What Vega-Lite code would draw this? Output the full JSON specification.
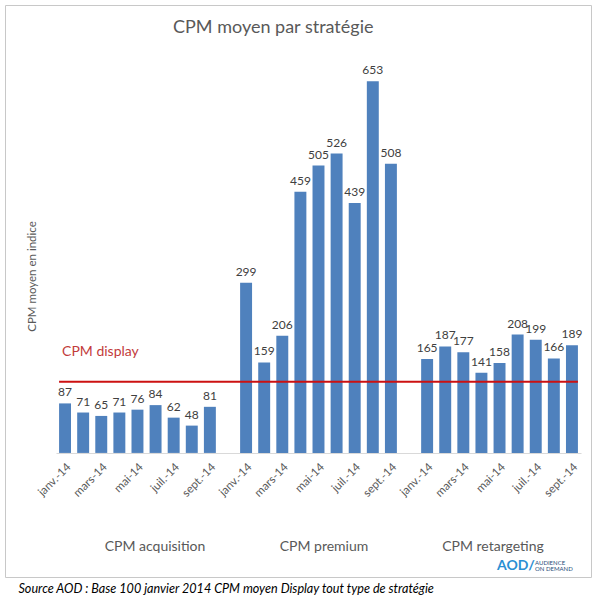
{
  "$schema": "https://vega.github.io/schema/vega-lite/v6.json",
  "autosize": {"type": "none"},
  "width": 586,
  "height": 572,
  "padding": {"left": 5, "top": 5, "right": 4, "bottom": 19},
  "background": "white",
  "config": {"view": {"stroke": "#c8c8c8", "strokeWidth": 1}, "font": "Lato"},
  "title": {"text": "CPM moyen par stratégie", "anchor": "start", "frame": "group", "dx": 168, "dy": 46, "offset": 0, "baseline": "alphabetic", "fontSize": 18, "fontWeight": "normal", "color": "#595959", "font": "Lato"},
  "datasets": {
    "cpm": [
      {"groupe": "CPM acquisition", "mois": "janv.-14", "cle": "acquisition|janv.-14", "indice": 87},
      {"groupe": "CPM acquisition", "mois": "févr.-14", "cle": "acquisition|févr.-14", "indice": 71},
      {"groupe": "CPM acquisition", "mois": "mars-14", "cle": "acquisition|mars-14", "indice": 65},
      {"groupe": "CPM acquisition", "mois": "avr.-14", "cle": "acquisition|avr.-14", "indice": 71},
      {"groupe": "CPM acquisition", "mois": "mai-14", "cle": "acquisition|mai-14", "indice": 76},
      {"groupe": "CPM acquisition", "mois": "juin-14", "cle": "acquisition|juin-14", "indice": 84},
      {"groupe": "CPM acquisition", "mois": "juil.-14", "cle": "acquisition|juil.-14", "indice": 62},
      {"groupe": "CPM acquisition", "mois": "août-14", "cle": "acquisition|août-14", "indice": 48},
      {"groupe": "CPM acquisition", "mois": "sept.-14", "cle": "acquisition|sept.-14", "indice": 81},
      {"groupe": "CPM premium", "mois": "janv.-14", "cle": "premium|janv.-14", "indice": 299},
      {"groupe": "CPM premium", "mois": "févr.-14", "cle": "premium|févr.-14", "indice": 159},
      {"groupe": "CPM premium", "mois": "mars-14", "cle": "premium|mars-14", "indice": 206},
      {"groupe": "CPM premium", "mois": "avr.-14", "cle": "premium|avr.-14", "indice": 459},
      {"groupe": "CPM premium", "mois": "mai-14", "cle": "premium|mai-14", "indice": 505},
      {"groupe": "CPM premium", "mois": "juin-14", "cle": "premium|juin-14", "indice": 526},
      {"groupe": "CPM premium", "mois": "juil.-14", "cle": "premium|juil.-14", "indice": 439},
      {"groupe": "CPM premium", "mois": "août-14", "cle": "premium|août-14", "indice": 653},
      {"groupe": "CPM premium", "mois": "sept.-14", "cle": "premium|sept.-14", "indice": 508},
      {"groupe": "CPM retargeting", "mois": "janv.-14", "cle": "retargeting|janv.-14", "indice": 165},
      {"groupe": "CPM retargeting", "mois": "févr.-14", "cle": "retargeting|févr.-14", "indice": 187},
      {"groupe": "CPM retargeting", "mois": "mars-14", "cle": "retargeting|mars-14", "indice": 177},
      {"groupe": "CPM retargeting", "mois": "avr.-14", "cle": "retargeting|avr.-14", "indice": 141},
      {"groupe": "CPM retargeting", "mois": "mai-14", "cle": "retargeting|mai-14", "indice": 158},
      {"groupe": "CPM retargeting", "mois": "juin-14", "cle": "retargeting|juin-14", "indice": 208},
      {"groupe": "CPM retargeting", "mois": "juil.-14", "cle": "retargeting|juil.-14", "indice": 199},
      {"groupe": "CPM retargeting", "mois": "août-14", "cle": "retargeting|août-14", "indice": 166},
      {"groupe": "CPM retargeting", "mois": "sept.-14", "cle": "retargeting|sept.-14", "indice": 189}
    ],
    "repere": [{"repere": "CPM display", "indice": 125}],
    "groupes": [{"groupe": "CPM acquisition"}, {"groupe": "CPM premium"}, {"groupe": "CPM retargeting"}]
  },
  "layer": [
    {
      "layer": [
        {
          "data": {"name": "cpm"},
          "encoding": {
            "x": {
              "field": "cle", "type": "nominal",
              "scale": {
                "domain": ["acquisition|janv.-14", "acquisition|févr.-14", "acquisition|mars-14", "acquisition|avr.-14", "acquisition|mai-14", "acquisition|juin-14", "acquisition|juil.-14", "acquisition|août-14", "acquisition|sept.-14", "gap1",
                  "premium|janv.-14", "premium|févr.-14", "premium|mars-14", "premium|avr.-14", "premium|mai-14", "premium|juin-14", "premium|juil.-14", "premium|août-14", "premium|sept.-14", "gap2",
                  "retargeting|janv.-14", "retargeting|févr.-14", "retargeting|mars-14", "retargeting|avr.-14", "retargeting|mai-14", "retargeting|juin-14", "retargeting|juil.-14", "retargeting|août-14", "retargeting|sept.-14"],
                "range": [51, 576], "paddingInner": 0.34, "paddingOuter": 0.17
              },
              "axis": {
                "orient": "bottom", "offset": -124, "labelAngle": -45, "labelAlign": "right", "labelBaseline": "top",
                "ticks": false, "domainColor": "#d9d9d9", "labelFontSize": 11.5, "labelColor": "#595959", "labelPadding": 8,
                "labelOverlap": false, "labelFont": "Lato",
                "labelExpr": "indexof(['janv.-14','mars-14','mai-14','juil.-14','sept.-14'], split(datum.value,'|')[1]) >= 0 ? split(datum.value,'|')[1] : ''",
                "title": "Source AOD : Base 100 janvier 2014 CPM moyen Display tout type de stratégie",
                "titleX": 13, "titleY": 135, "titleAlign": "left", "titleAnchor": "start", "titleBaseline": "middle",
                "titleFontStyle": "italic", "titleFontWeight": "normal", "titleFontSize": 12.6, "titleColor": "#000000", "titleFont": "Lato"
              }
            },
            "y": {
              "field": "indice", "type": "quantitative",
              "scale": {"domain": [-218, 787], "nice": false, "zero": false},
              "axis": {"title": "CPM moyen en indice", "labels": false, "ticks": false, "domain": false, "grid": false,
                "titleX": 27, "titleY": 271, "titleAngle": -90, "titleAlign": "center", "titleBaseline": "middle",
                "titleFontSize": 11.5, "titleFontWeight": "normal", "titleColor": "#595959", "titleFont": "Lato"}
            }
          },
          "layer": [
            {"mark": {"type": "bar", "color": "#4f81bd"}, "encoding": {"y2": {"datum": 0}}},
            {"mark": {"type": "text", "dy": -7, "baseline": "alphabetic", "fontSize": 12, "color": "#404040", "font": "Lato"},
             "encoding": {"text": {"field": "indice", "type": "quantitative"}}}
          ]
        },
        {
          "data": {"name": "repere"},
          "mark": {"type": "rule", "color": "#cc1111", "strokeWidth": 2},
          "encoding": {
            "y": {"field": "indice", "type": "quantitative"},
            "x": {"datum": "acquisition|janv.-14", "bandPosition": 0},
            "x2": {"datum": "retargeting|sept.-14", "bandPosition": 1}
          }
        },
        {
          "data": {"name": "repere"},
          "mark": {"type": "text", "align": "left", "baseline": "middle", "dx": 3, "fontSize": 14, "color": "#c23b3b", "font": "Lato"},
          "encoding": {
            "y": {"datum": 177},
            "x": {"datum": "acquisition|janv.-14", "bandPosition": 0},
            "text": {"field": "repere"}
          }
        }
      ]
    },
    {
      "layer": [
        {
          "data": {"name": "groupes"},
          "mark": {"type": "text", "baseline": "middle", "fontSize": 14, "color": "#595959", "font": "Lato"},
          "encoding": {
            "x": {"field": "groupe", "type": "nominal", "scale": {"type": "point", "domain": ["CPM acquisition", "CPM premium", "CPM retargeting"], "range": [150, 488], "padding": 0}, "axis": null},
            "y": {"datum": -165},
            "text": {"field": "groupe"}
          }
        },
        {
          "data": {"values": [{}]},
          "mark": {"type": "text", "text": "AOD/", "align": "left", "baseline": "middle", "dx": 4, "fontSize": 14, "fontWeight": "bold", "color": "#2b8fd3", "font": "Lato"},
          "encoding": {"x": {"datum": "CPM retargeting"}, "y": {"datum": -198.6}}
        },
        {
          "data": {"values": [{}]},
          "mark": {"type": "text", "text": "AUDIENCE", "align": "left", "baseline": "middle", "dx": 42, "fontSize": 6, "color": "#1f4e79", "font": "Lato"},
          "encoding": {"x": {"datum": "CPM retargeting"}, "y": {"datum": -193.3}}
        },
        {
          "data": {"values": [{}]},
          "mark": {"type": "text", "text": "ON DEMAND", "align": "left", "baseline": "middle", "dx": 42, "fontSize": 6, "color": "#1f4e79", "font": "Lato"},
          "encoding": {"x": {"datum": "CPM retargeting"}, "y": {"datum": -203.9}}
        }
      ]
    }
  ],
  "resolve": {"scale": {"x": "independent"}}
}
